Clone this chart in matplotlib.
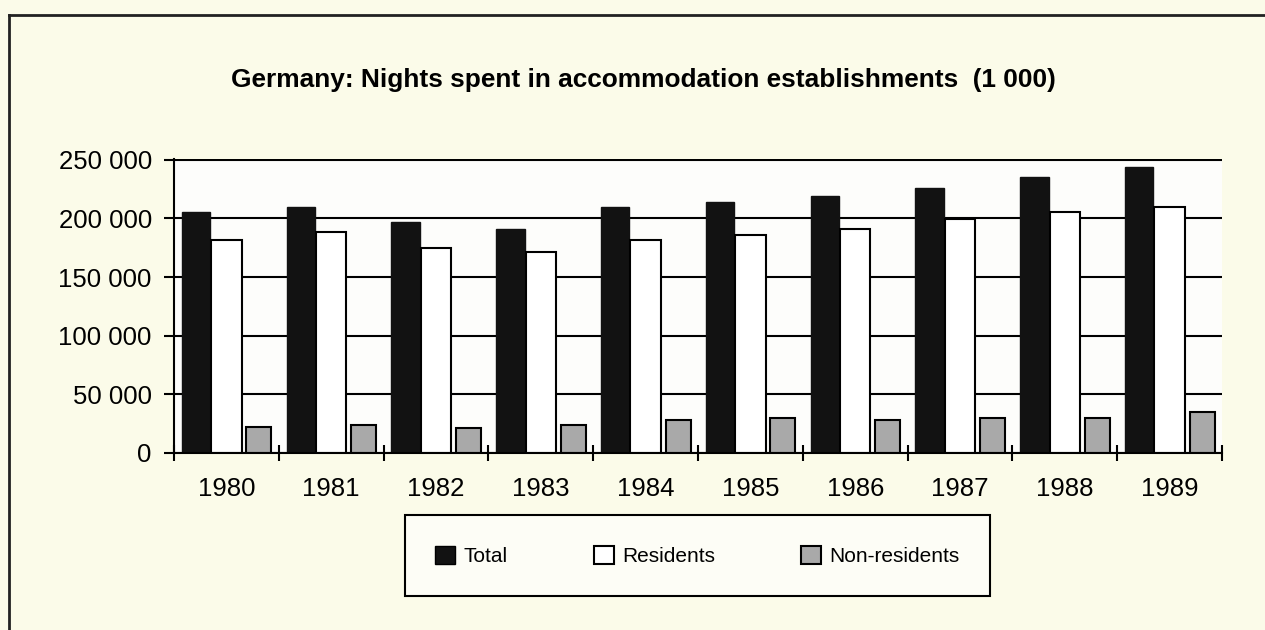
import numpy as np
import matplotlib.pyplot as plt
from matplotlib.lines import Line2D
from matplotlib.patches import Patch

plt.rcParams['font.family'] = ['Liberation Sans', 'DejaVu Sans']

# data (1 000 nights)
years = ["1980", "1981", "1982", "1983", "1984", "1985", "1986", "1987", "1988", "1989"]
total = [205000, 209500, 196500, 191000, 209500, 214000, 219000, 226000, 235000, 243500]
residents = [181500, 188000, 175000, 171000, 181500, 186000, 191000, 199500, 205000, 209500]
non_residents = [22500, 23500, 21000, 24000, 28500, 30000, 28000, 30000, 30000, 35000]

ytick_vals = [0, 50000, 100000, 150000, 200000, 250000]
ytick_labels = ["0", "50 000", "100 000", "150 000", "200 000", "250 000"]

bg = "#fbfbe9"
W, H = 1265, 630
fig = plt.figure(figsize=(W / 100, H / 100), dpi=100, facecolor=bg)

ax = fig.add_axes([174 / W, (H - 453) / H, 1048 / W, (453 - 159) / H])
ax.set_facecolor("#fdfdfb")

x = np.arange(len(years))
ax.bar(x + 0.21, total, width=0.27, color="#121212", edgecolor="#121212", linewidth=1, zorder=3)
ax.bar(x + 0.50, residents, width=0.29, color="white", edgecolor="black", linewidth=1.5, zorder=3)
ax.bar(x + 0.81, non_residents, width=0.24, color="#a9a9a9", edgecolor="black", linewidth=1.5, zorder=3)

ax.set_xlim(0, len(years))
ax.set_ylim(0, 250600)
ax.set_yticks(ytick_vals)
ax.set_yticklabels(ytick_labels, fontsize=18.5)
ax.set_xticks(np.arange(len(years) + 1))
ax.set_xticklabels([])
ax.set_xticks(x + 0.5, minor=True)
ax.set_xticklabels(years, minor=True, fontsize=18.5)
ax.tick_params(axis="x", which="major", direction="inout", length=12, width=1.5, color="black")
ax.tick_params(axis="x", which="minor", length=0, pad=17)
ax.tick_params(axis="y", direction="out", length=7, width=1.5, pad=9, color="black")

ax.yaxis.grid(True, color="black", linewidth=1.5)
ax.set_axisbelow(True)
for s in ["top", "right"]:
    ax.spines[s].set_visible(False)
for s in ["left", "bottom"]:
    ax.spines[s].set_linewidth(1.5)
    ax.spines[s].set_zorder(4)

fig.text(643 / W, 1 - 80 / H, "Germany: Nights spent in accommodation establishments  (1 000)",
         ha="center", va="center", fontsize=18.9, fontweight="bold")

handles = [Patch(facecolor="#121212", edgecolor="black"),
           Patch(facecolor="white", edgecolor="black", linewidth=1.5),
           Patch(facecolor="#a9a9a9", edgecolor="black", linewidth=1.5)]
leg = fig.legend(handles, ["Total", "Residents", "Non-residents"], ncol=3, mode="expand",
                 loc="lower left", bbox_to_anchor=(405 / W, (H - 596) / H, 585 / W, 82 / H),
                 fontsize=15, handlelength=0.95, handleheight=0.95, handletextpad=0.4,
                 borderpad=1.45, fancybox=False, edgecolor="black", facecolor="#fdfdf6",
                 framealpha=1, borderaxespad=0)
leg.get_frame().set_linewidth(1.5)

# outer frame of the page
fig.add_artist(Line2D([9 / W, 9 / W], [0, 1 - 15 / H], color="#222222", linewidth=2))
fig.add_artist(Line2D([9 / W, 1], [1 - 15 / H, 1 - 15 / H], color="#222222", linewidth=2))

fig.savefig("out.png", dpi=100, facecolor=bg)
